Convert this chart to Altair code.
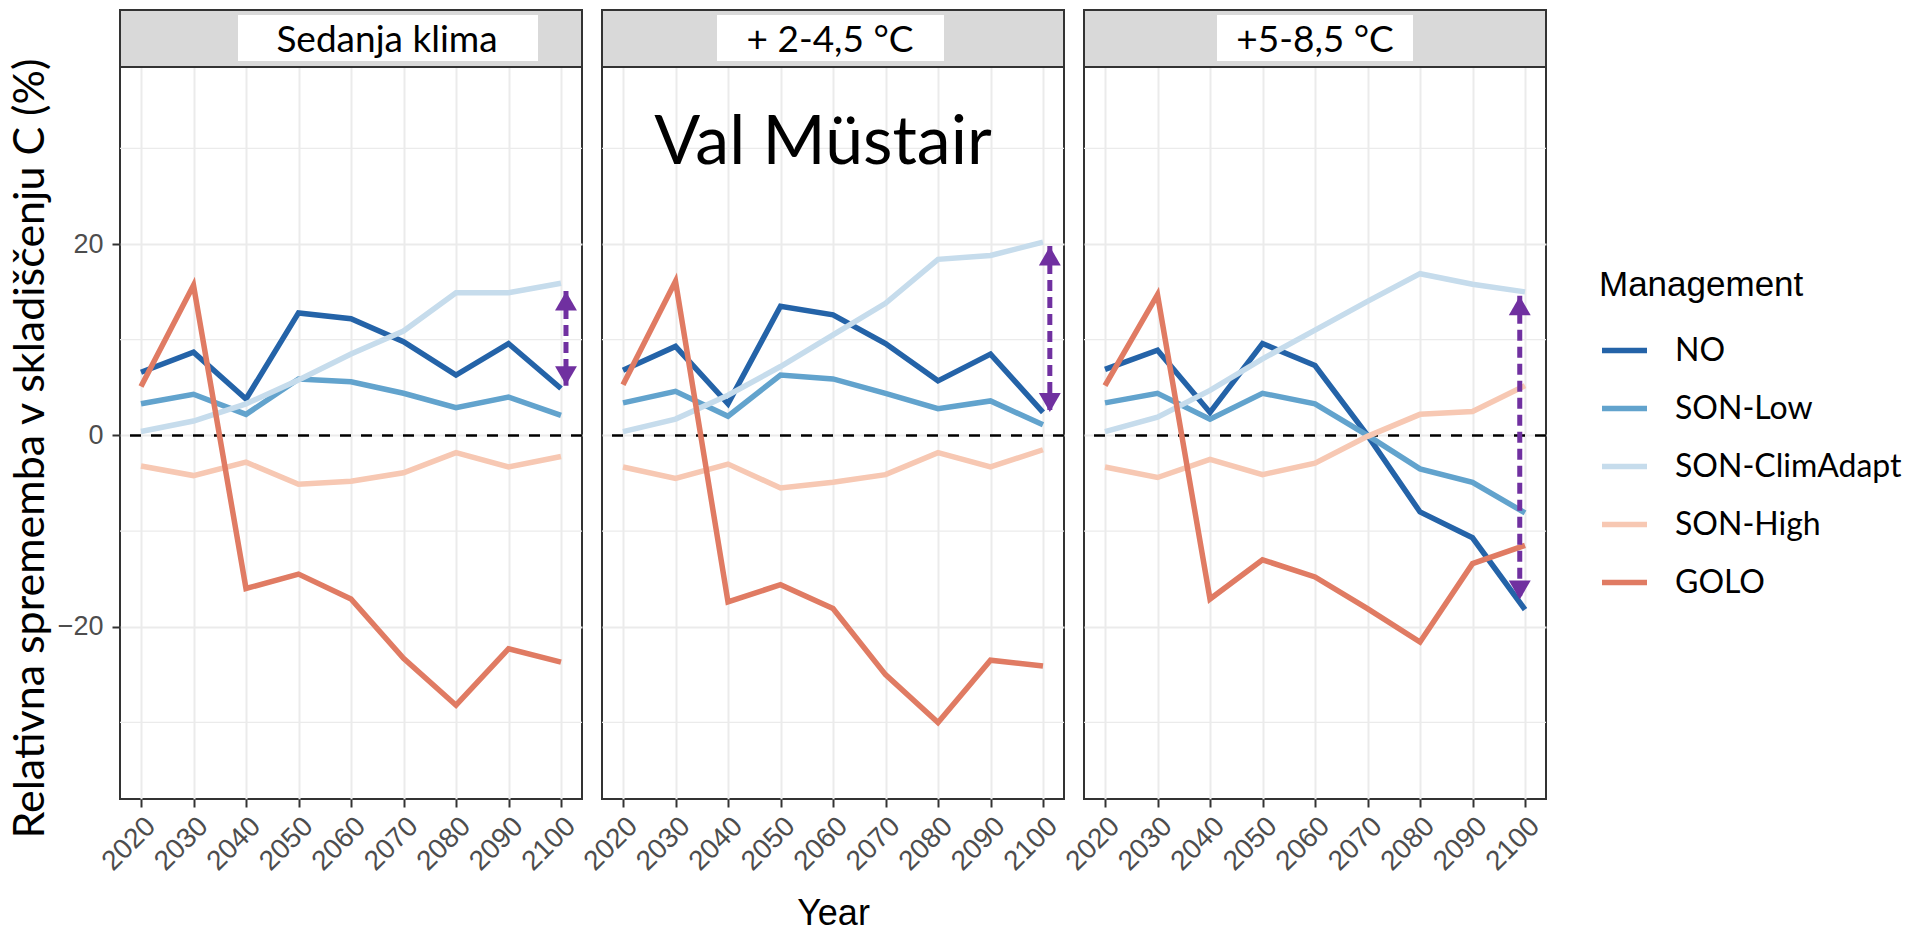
import altair as alt
import pandas as pd

years = [2020, 2030, 2040, 2050, 2060, 2070, 2080, 2090, 2100]
managements = ["NO", "SON-Low", "SON-ClimAdapt", "SON-High", "GOLO"]
scenarios = ["Sedanja klima", "+ 2-4,5 °C", "+5-8,5 °C"]
colors = ["#2463a8", "#62a3cd", "#c6dcec", "#f7c8b3", "#e07b63"]

# Panel 1: Sedanja klima
s1_no = [6.6, 8.7, 3.8, 12.8, 12.2, 9.8, 6.3, 9.6, 4.9]
s1_low = [3.3, 4.3, 2.2, 5.9, 5.6, 4.4, 2.9, 4.0, 2.1]
s1_clim = [0.4, 1.5, 3.3, 5.8, 8.5, 10.9, 14.9, 14.9, 15.9]
s1_high = [-3.2, -4.2, -2.8, -5.1, -4.8, -3.9, -1.8, -3.3, -2.2]
s1_golo = [5.1, 15.7, -16.0, -14.5, -17.1, -23.3, -28.2, -22.3, -23.7]

# Panel 2: + 2-4,5 °C
s2_no = [6.8, 9.3, 3.3, 13.5, 12.6, 9.6, 5.7, 8.5, 2.4]
s2_low = [3.4, 4.6, 2.0, 6.3, 5.9, 4.4, 2.8, 3.6, 1.1]
s2_clim = [0.4, 1.7, 4.2, 7.2, 10.5, 13.8, 18.4, 18.8, 20.2]
s2_high = [-3.3, -4.5, -3.0, -5.5, -4.9, -4.1, -1.8, -3.3, -1.5]
s2_golo = [5.3, 16.1, -17.4, -15.6, -18.1, -25.0, -30.0, -23.5, -24.1]

# Panel 3: +5-8,5 °C
s3_no = [6.9, 8.9, 2.4, 9.6, 7.3, 0.0, -8.0, -10.7, -18.2]
s3_low = [3.4, 4.4, 1.7, 4.4, 3.3, 0.0, -3.5, -4.9, -8.1]
s3_clim = [0.4, 1.9, 4.7, 8.0, 11.0, 14.0, 16.9, 15.8, 15.0]
s3_high = [-3.3, -4.4, -2.5, -4.1, -2.9, -0.1, 2.2, 2.5, 5.2]
s3_golo = [5.2, 14.7, -17.1, -13.0, -14.8, -18.1, -21.6, -13.4, -11.5]

series = [
    [s1_no, s1_low, s1_clim, s1_high, s1_golo],
    [s2_no, s2_low, s2_clim, s2_high, s2_golo],
    [s3_no, s3_low, s3_clim, s3_high, s3_golo],
]

# Purple double arrows (one per panel)
arrow_year = [2100.95, 2101.3, 2099.0]
arrow_top = [15.1, 19.8, 14.6]
arrow_bottom = [5.2, 2.4, -17.2]

major_y = [-20, 0, 20]
minor_y = [-30, -10, 10, 30]

annot_text = ["Val Müstair"]
annot_year = [2058.1]
annot_value = [28.4]

W, H = 462, 732
xscale = alt.Scale(domain=[2016, 2104], nice=False, zero=False)
yscale = alt.Scale(domain=[-38, 38.5], nice=False, zero=False)
cscale = alt.Scale(domain=managements, range=colors)

strip_box = [(118, 418), (115, 342), (133, 329)]
strip_cx = [267, 228, 231]


def panel(i):
    rows = []
    for m, vals in zip(managements, series[i]):
        for yr, v in zip(years, vals):
            rows.append({"management": m, "year": yr, "value": v})
    d = pd.DataFrame(rows)

    x_axis = alt.Axis(
        values=years, format="d", labelAngle=315, labelAlign="right",
        labelBaseline="top", labelOverlap=False, labelBound=False,
        labelFontSize=28,
        title="Year" if i == 1 else None,
        titleFontSize=36, titleColor="black", titleFontWeight="normal",
        titlePadding=21,
    )
    if i == 0:
        y_axis = alt.Axis(
            values=major_y, title="Relativna sprememba v skladiščenju C (%)",
            titleFont="Lato", titleFontSize=43, titleColor="black",
            titleFontWeight="normal", titlePadding=5, titleY=381,
            labelPadding=9, labelFontSize=27,
        )
    else:
        y_axis = alt.Axis(values=major_y, labels=False, ticks=False, title=None)

    minor = alt.Chart(pd.DataFrame({"value": minor_y})).mark_rule(
        color="#ebebeb", strokeWidth=1.3
    ).encode(y=alt.Y("value:Q", scale=yscale, axis=y_axis))

    zero = alt.Chart(pd.DataFrame({"value": [0]})).mark_rule(
        color="black", strokeWidth=2.5, strokeDash=[11, 10]
    ).encode(y=alt.Y("value:Q", scale=yscale))

    lines = alt.Chart(d).mark_line(strokeWidth=5.5).encode(
        x=alt.X("year:Q", scale=xscale, axis=x_axis),
        y=alt.Y("value:Q", scale=yscale),
        color=alt.Color(
            "management:N", scale=cscale, sort=managements,
            legend=alt.Legend(
                title="Management", orient="none", legendX=1479, legendY=201,
                titleFontSize=35, titleFont="Liberation Sans",
                titleFontWeight="normal", titleColor="black", titlePadding=22,
                titleLimit=0, labelLimit=0,
                labelFont="Lato", labelFontSize=32, labelColor="black",
                labelOffset=25, symbolType="stroke", symbolSize=2025,
                symbolStrokeWidth=5.5, rowPadding=16,
            ),
        ),
    )

    ad = pd.DataFrame({"year": [arrow_year[i]], "top": [arrow_top[i]],
                       "bottom": [arrow_bottom[i]]})
    shaft = alt.Chart(ad).mark_rule(
        color="#7030a0", strokeWidth=5, strokeDash=[11, 6]
    ).encode(x=alt.X("year:Q", scale=xscale), y=alt.Y("top:Q", scale=yscale),
             y2="bottom:Q")
    head_up = alt.Chart(ad).mark_point(
        shape="triangle-up", filled=True, opacity=1, color="#7030a0",
        size=480, yOffset=10
    ).encode(x=alt.X("year:Q", scale=xscale), y=alt.Y("top:Q", scale=yscale))
    head_down = alt.Chart(ad).mark_point(
        shape="triangle-down", filled=True, opacity=1, color="#7030a0",
        size=480, yOffset=-10
    ).encode(x=alt.X("year:Q", scale=xscale), y=alt.Y("bottom:Q", scale=yscale))

    sd = pd.DataFrame({"label": [scenarios[i]]})
    strip = alt.Chart(sd).mark_rect(
        fill="#d9d9d9", stroke="#333333", strokeWidth=2
    ).encode(x=alt.value(0), x2=alt.value(W), y=alt.value(-57), y2=alt.value(0))
    box = alt.Chart(sd).mark_rect(fill="white").encode(
        x=alt.value(strip_box[i][0]), x2=alt.value(strip_box[i][1]),
        y=alt.value(-52), y2=alt.value(-6))
    stext = alt.Chart(sd).mark_text(
        font="Lato", fontSize=37, color="black", align="center",
        baseline="alphabetic"
    ).encode(x=alt.value(strip_cx[i]), y=alt.value(-15), text="label:N")

    layers = [minor, zero, lines, shaft, head_up, head_down, strip, box, stext]
    if i == 1:
        an = pd.DataFrame({"t": annot_text, "year": annot_year, "value": annot_value})
        layers.append(alt.Chart(an).mark_text(
            font="Lato", fontSize=68, color="black", align="center",
            baseline="alphabetic"
        ).encode(x=alt.X("year:Q", scale=xscale), y=alt.Y("value:Q", scale=yscale),
                 text="t:N"))
    return alt.layer(*layers).properties(width=W, height=H)


chart = alt.hconcat(panel(0), panel(1), panel(2), spacing=20, bounds="flush").properties(
    padding={"left": 8, "top": 8, "right": 0, "bottom": 0},
    background="white",
).configure_view(
    stroke="#333333", strokeWidth=2
).configure_axis(
    domain=False, tickColor="#333333", tickWidth=2, tickSize=8,
    labelFont="Liberation Sans", labelFontSize=25, labelColor="#4d4d4d",
    titleFont="Liberation Sans", gridColor="#ebebeb", gridWidth=2,
    labelPadding=5,
)

chart.save("out.html", embed_options={"renderer": "svg", "actions": False})
